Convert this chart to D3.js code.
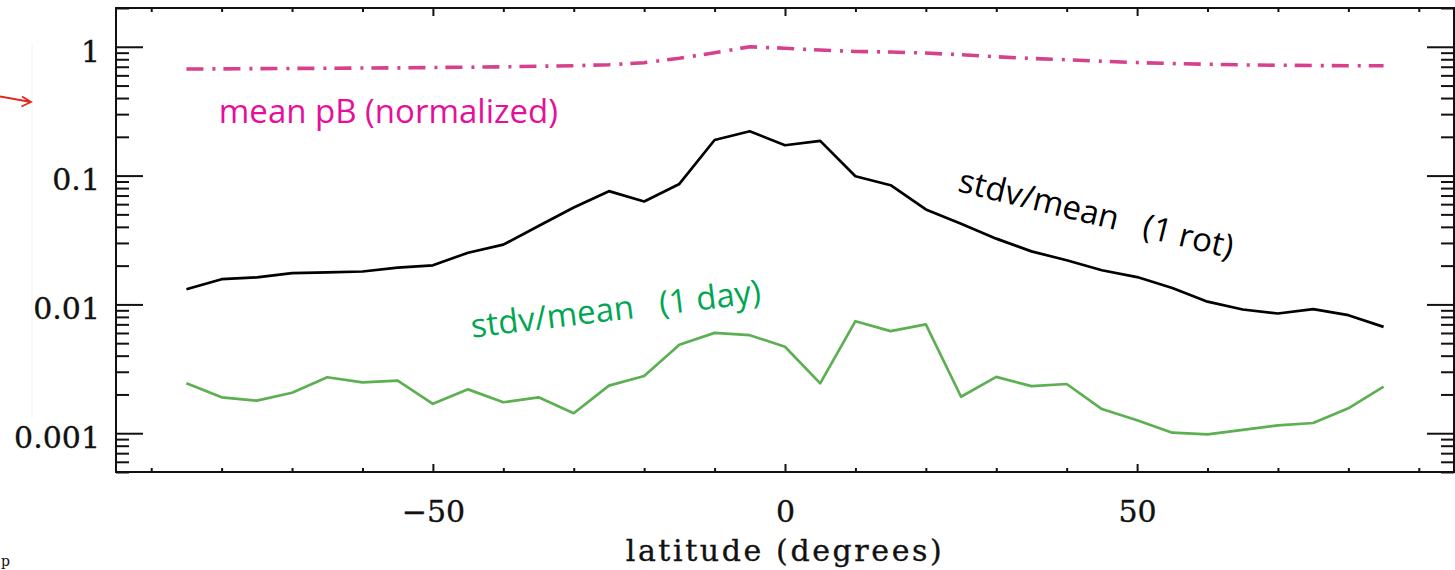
<!DOCTYPE html>
<html>
<head>
<meta charset="utf-8">
<script src="https://cdn.jsdelivr.net/npm/d3@7"></script>
<style>
  html, body { margin: 0; padding: 0; background: #fff; }
  svg { display: block; }
  .ticklab { font-family: "DejaVu Serif", serif; font-size: 30px; fill: #111; stroke: #111; stroke-width: 0.35px; }
  .note { font-family: "Open Sans", sans-serif; font-size: 33px; white-space: pre; }
</style>
</head>
<body>
<svg id="chart" width="1455" height="570"></svg>
<script>
// Latitude grid (degrees), 5-degree bins
const latitudes = [-85,-80,-75,-70,-65,-60,-55,-50,-45,-40,-35,-30,-25,-20,-15,-10,-5,
                   0,5,10,15,20,25,30,35,40,45,50,55,60,65,70,75,80,85];

// Mean polarized brightness, normalized to its peak
const meanPB = [0.672,0.674,0.677,0.679,0.681,0.684,0.686,0.690,0.694,0.699,0.706,0.713,0.726,0.752,0.815,0.899,1.000,
                0.974,0.943,0.920,0.910,0.894,0.867,0.837,0.812,0.793,0.772,0.754,0.741,0.732,0.723,0.719,0.715,0.713,0.713];

// Relative variability over one solar rotation
const stdvRot = [0.0131,0.0157,0.0162,0.0175,0.0177,0.0180,0.0193,0.0201,0.0252,0.0291,0.0406,0.0566,0.0757,0.0630,0.0861,0.189,0.221,
                 0.172,0.186,0.0989,0.0842,0.0546,0.0423,0.0324,0.0258,0.0220,0.0184,0.0163,0.0134,0.0105,0.00913,0.0085,0.00918,0.00825,0.00669];

// Relative variability over one day
const stdvDay = [0.00244,0.00190,0.00179,0.00206,0.00272,0.00248,0.00256,0.00169,0.00219,0.00174,0.00190,0.00143,0.00234,0.00278,0.00487,0.00601,0.00577,
                 0.00469,0.00244,0.00741,0.00620,0.00699,0.00192,0.00274,0.00232,0.00241,0.00154,0.00126,0.00101,0.00098,0.00106,0.00115,0.00120,0.00156,0.00230];

// Axis ticks
const xMajorTicks = [-50, 0, 50];
const xMinorTicks = [-90,-80,-70,-60,-40,-30,-20,-10,10,20,30,40,60,70,80,90];
const yMajorTicks = [0.001, 0.01, 0.1, 1];
const yTickLabels = ["0.001", "0.01", "0.1", "1"];
const yMinorTicks = [0.0005,0.0006,0.0007,0.0008,0.0009,
                     0.002,0.003,0.004,0.005,0.006,0.007,0.008,0.009,
                     0.02,0.03,0.04,0.05,0.06,0.07,0.08,0.09,
                     0.2,0.3,0.4,0.5,0.6,0.7,0.8,0.9,2];

// Curve labels, anchored in data coordinates
const notes = [
  { text: "mean pB (normalized)", lat: -80.4, val: 0.258, angle: 0, color: "#e4109b" },
  { text: "stdv/mean   (1 rot)", lat: 24.4, val: 0.0758, angle: 13.8, color: "#000000" },
  { text: "stdv/mean   (1 day)", lat: -44.4, val: 0.00552, angle: -6.9, color: "#00a651" }
];

const svg = d3.select("#chart");
const L = 116, R = 1454, T = 8, B = 472;

const x = d3.scaleLinear().domain([-95, 95]).range([L, R]);
const y = d3.scaleLog().domain([0.0005, 2]).range([B, T]);

// Axes (ticks point inward, IDL style)
function styleAxis(g) {
  g.select(".domain").remove();
  g.selectAll(".tick line").attr("stroke", "#111").attr("stroke-width", 2);
}

svg.append("g").attr("transform", `translate(0,${B})`)
  .call(d3.axisBottom(x).tickValues(xMinorTicks).tickSize(-4).tickFormat(""))
  .call(styleAxis);
svg.append("g").attr("transform", `translate(0,${T})`)
  .call(d3.axisTop(x).tickValues(xMinorTicks).tickSize(-4).tickFormat(""))
  .call(styleAxis);
svg.append("g").attr("transform", `translate(0,${T})`)
  .call(d3.axisTop(x).tickValues(xMajorTicks).tickSize(-8).tickFormat(""))
  .call(styleAxis);
const xAx = svg.append("g").attr("transform", `translate(0,${B})`)
  .call(d3.axisBottom(x).tickValues(xMajorTicks).tickSize(-8).tickPadding(28.5).tickFormat(d3.format("d")))
  .call(styleAxis);
xAx.selectAll("text").attr("class", "ticklab").attr("font-size", null).attr("font-family", null);

svg.append("g").attr("transform", `translate(${L},0)`)
  .call(d3.axisLeft(y).tickValues(yMinorTicks).tickSize(-13).tickFormat(""))
  .call(styleAxis);
svg.append("g").attr("transform", `translate(${R},0)`)
  .call(d3.axisRight(y).tickValues(yMinorTicks).tickSize(-13).tickFormat(""))
  .call(styleAxis);
svg.append("g").attr("transform", `translate(${R},0)`)
  .call(d3.axisRight(y).tickValues(yMajorTicks).tickSize(-27).tickFormat(""))
  .call(styleAxis);
const yAx = svg.append("g").attr("transform", `translate(${L},0)`)
  .call(d3.axisLeft(y).tickValues(yMajorTicks).tickSize(-27).tickPadding(16)
        .tickFormat((d, i) => yTickLabels[i]))
  .call(styleAxis);
yAx.selectAll("text").attr("class", "ticklab").attr("font-size", null).attr("font-family", null)
  .attr("dy", "0.48em");

// Plot frame
svg.append("rect")
  .attr("x", L).attr("y", T).attr("width", R - L).attr("height", B - T)
  .attr("fill", "none").attr("stroke", "#111").attr("stroke-width", 2);

// X axis title
svg.append("text").attr("class", "ticklab")
  .attr("x", x(0)).attr("y", 561).attr("text-anchor", "middle")
  .attr("letter-spacing", "2.6px")
  .text("latitude (degrees)");

// Curves
const rows = latitudes.map((lat, i) => ({ lat, pb: meanPB[i], rot: stdvRot[i], day: stdvDay[i] }));
const lineOf = key => d3.line().x(d => x(d.lat)).y(d => y(d[key]));

svg.append("path").datum(rows).attr("d", lineOf("pb"))
  .attr("fill", "none").attr("stroke", "#d6408c").attr("stroke-width", 3.6)
  .attr("stroke-dasharray", "17,9,3,8");
svg.append("path").datum(rows).attr("d", lineOf("rot"))
  .attr("fill", "none").attr("stroke", "#000").attr("stroke-width", 2.7)
  .attr("stroke-linejoin", "round");
svg.append("path").datum(rows).attr("d", lineOf("day"))
  .attr("fill", "none").attr("stroke", "#5cb052").attr("stroke-width", 2.7)
  .attr("stroke-linejoin", "round");

// Curve labels
notes.forEach(n => {
  svg.append("text").attr("class", "note")
    .attr("transform", `translate(${x(n.lat)},${y(n.val)}) rotate(${n.angle})`)
    .attr("fill", n.color)
    .text(n.text);
});

// Margin marks at the left edge
svg.append("line").attr("x1", 32).attr("x2", 32).attr("y1", 43).attr("y2", 418)
  .attr("stroke", "#f2f2f2").attr("stroke-width", 1);
svg.append("path")
  .attr("d", "M0,96.5 L31,102 M22,96.5 L31,102 L21.5,106.5")
  .attr("fill", "none").attr("stroke", "#e5281e").attr("stroke-width", 1.8);
svg.append("text").attr("x", 1).attr("y", 566)
  .attr("font-family", "DejaVu Serif, serif").attr("font-size", 14).attr("fill", "#111")
  .text("p");
</script>
</body>
</html>
